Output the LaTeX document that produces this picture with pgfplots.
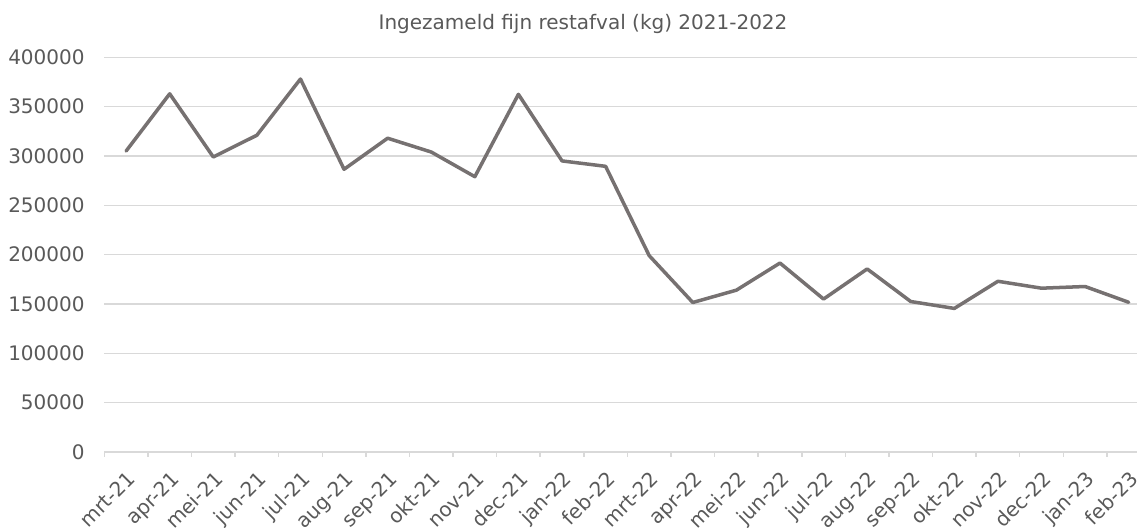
\documentclass[border=0pt]{standalone}
\usepackage{fontspec}
\setmainfont{DejaVu Sans}
\usepackage{pgfplots}
\pgfplotsset{compat=1.18}
\definecolor{linegray}{RGB}{118,113,113}
\definecolor{gridgray}{RGB}{217,217,217}
\definecolor{textgray}{RGB}{89,89,89}
\begin{document}
\begin{tikzpicture}
\begin{axis}[
  scale only axis,
  width=516.35pt, height=197.35pt,
  xmin=-0.5, xmax=23.19,
  ymin=0, ymax=400000,
  ytick={0,50000,...,400000},
  xtick={0,...,23},
  xticklabels={mrt-21,apr-21,mei-21,jun-21,jul-21,aug-21,sep-21,okt-21,nov-21,dec-21,jan-22,feb-22,mrt-22,apr-22,mei-22,jun-22,jul-22,aug-22,sep-22,okt-22,nov-22,dec-22,jan-23,feb-23},
  minor xtick={-0.5,0.5,...,22.5},
  major tick length=0pt,
  minor tick length=2.5pt,
  tick align=outside,
  tick pos=bottom,
  minor tick style={gridgray, line width=0.75pt},
  axis x line*=bottom,
  axis y line*=left,
  x axis line style={-, draw=gridgray, line width=0.75pt},
  y axis line style={draw=none},
  ymajorgrids,
  major grid style={gridgray, line width=0.75pt},
  scaled y ticks=false,
  /pgf/number format/.cd, fixed, set thousands separator={}, assume math mode=true,
  /pgfplots/.cd,
  tick label style={font=\fontsize{10}{12}\selectfont, text=textgray},
  yticklabel style={anchor=east, inner sep=0pt, xshift=-9.65pt},
  xticklabel style={yshift=-8.5pt, rotate=45, anchor=north east, inner sep=0pt},
  title={Ingezameld fijn restafval (kg) 2021-2022},
  title style={at={(0.4636,1)}, anchor=base, yshift=7.65pt, inner sep=0pt, font=\fontsize{10}{12}\selectfont, text=textgray},
]
\addplot[linegray, line width=1.75pt, line join=round, line cap=round, mark=none] coordinates {
(0,305000) (1,363000) (2,299000) (3,321000) (4,378000) (5,286500)
(6,318000) (7,304000) (8,279000) (9,362500) (10,295000) (11,289500)
(12,199000) (13,151500) (14,164000) (15,191500) (16,155000) (17,185500)
(18,152500) (19,145500) (20,173000) (21,166000) (22,167700) (23,151700)
};
\end{axis}
\pgfresetboundingbox
\path (-52.15pt,-38pt) rectangle (516.35pt,226pt);
\end{tikzpicture}
\end{document}
